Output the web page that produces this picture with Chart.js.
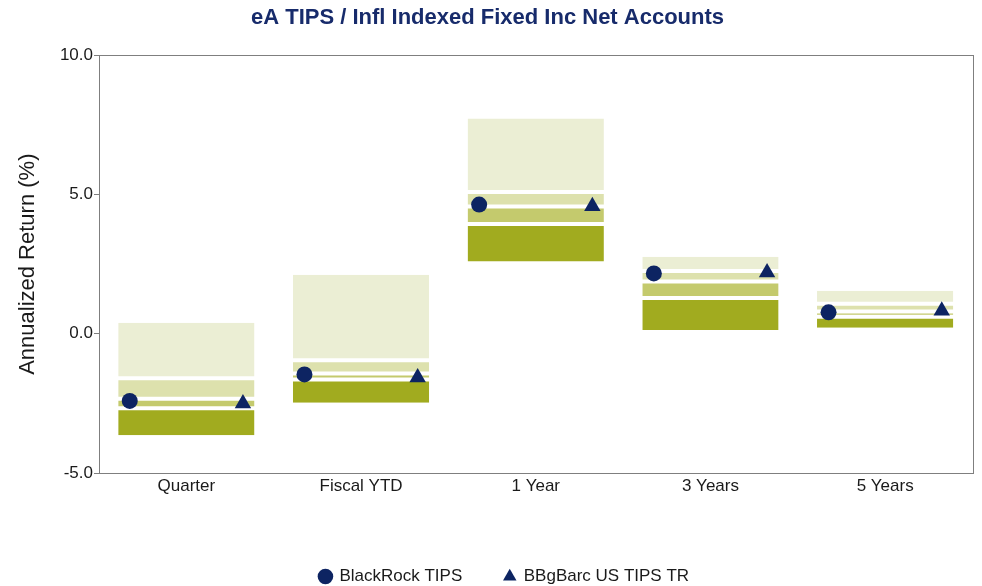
<!DOCTYPE html>
<html>
<head>
<meta charset="utf-8">
<title>eA TIPS / Infl Indexed Fixed Inc Net Accounts</title>
<script src="https://cdn.jsdelivr.net/npm/chart.js@4.4.1/dist/chart.umd.min.js"></script>
<style>
    html, body { margin: 0; padding: 0; background: #fff; }
    #wrap { width: 982px; height: 586px; position: relative; }
</style>
</head>
<body>
<div id="wrap"><canvas id="returnsChart"></canvas></div>
<script>
const periods = ['Quarter', 'Fiscal YTD', '1 Year', '3 Years', '5 Years'];

// Universe percentiles (5th = best return)
const pct5  = [0.40, 2.12, 7.73, 2.77, 1.55];
const pct25 = [-1.60, -0.95, 5.09, 2.26, 1.08];
const pct50 = [-2.33, -1.43, 4.57, 1.88, 0.80];
const pct75 = [-2.67, -1.64, 3.94, 1.29, 0.61];
const pct95 = [-3.64, -2.48, 2.60, 0.14, 0.22];

// Manager and benchmark returns
const blackrock = [-2.41, -1.46, 4.64, 2.17, 0.77];
const benchmark = [-2.50, -1.57, 4.58, 2.20, 0.83];

const yTicks = [-5, 0, 5, 10];

const NAVY = '#0d2462';
const TEXT = '#1a1a1a';
const AXIS = '#7f7f7f';
const FONT = "'Liberation Sans', Arial, sans-serif";

// markers sit near the left / right edge of each box
const MARK_SHIFT = 0.324;

function band(low, high, color, edges) {
    return {
        type: 'bar',
        data: low.map((v, i) => [v, high[i]]),
        backgroundColor: color,
        borderColor: '#ffffff',
        borderWidth: { top: edges[0], bottom: edges[1], left: 0, right: 0 },
        borderSkipped: false,
        inflateAmount: 0,
        grouped: false,
        barPercentage: 0.78,
        categoryPercentage: 1,
        order: 2
    };
}

function markers(label, values, shift, style, radius) {
    return {
        type: 'scatter',
        label: label,
        xAxisID: 'xm',
        data: values.map((v, i) => ({ x: i + shift, y: v })),
        pointStyle: style,
        pointRadius: radius,
        pointHoverRadius: radius,
        backgroundColor: NAVY,
        borderColor: NAVY,
        borderWidth: 0,
        order: 0
    };
}

// box outline around the plotting area
const plotFrame = {
    id: 'plotFrame',
    beforeDatasetsDraw(chart) {
        const { ctx, chartArea: a } = chart;
        ctx.save();
        ctx.strokeStyle = AXIS;
        ctx.lineWidth = 1;
        ctx.strokeRect(Math.round(a.left) + 0.5, Math.round(a.top) + 0.5,
            Math.round(a.right - a.left), Math.round(a.bottom - a.top));
        ctx.restore();
    }
};

// push the legend row down and a little right
const legendNudge = {
    id: 'legendNudge',
    afterLayout(chart) {
        const lg = chart.legend;
        lg.top += 9; lg.bottom += 9;
        lg.left += 17; lg.right += 17;
    }
};

new Chart(document.getElementById('returnsChart'), {
    data: {
        labels: periods,
        datasets: [
            markers('BlackRock TIPS', blackrock, -MARK_SHIFT, 'circle', 8),
            markers('BBgBarc US TIPS TR', benchmark, MARK_SHIFT, 'triangle', 9.5),
            band(pct25, pct5, '#ebeed4', [0, 2]),
            band(pct50, pct25, '#dde1ad', [2, 2]),
            band(pct75, pct50, '#c4ca6d', [2, 2]),
            band(pct95, pct75, '#a1ab1f', [2, 0])
        ]
    },
    options: {
        responsive: true,
        maintainAspectRatio: false,
        animation: false,
        layout: { padding: { left: 0, right: 7, top: 0, bottom: 0 } },
        plugins: {
            title: {
                display: true,
                text: 'eA TIPS / Infl Indexed Fixed Inc Net Accounts',
                color: '#172b6b',
                font: { family: FONT, size: 22, weight: 'bold' },
                padding: { top: 5, bottom: 24 }
            },
            legend: {
                position: 'bottom',
                labels: {
                    usePointStyle: true,
                    boxWidth: 11,
                    boxHeight: 11,
                    padding: 42,
                    color: TEXT,
                    font: { family: FONT, size: 17 },
                    filter: (item, data) => data.datasets[item.datasetIndex].type === 'scatter'
                }
            },
            tooltip: { enabled: false }
        },
        scales: {
            x: {
                type: 'category',
                offset: true,
                grid: { display: false, drawTicks: false },
                border: { display: false },
                ticks: { color: TEXT, font: { family: FONT, size: 17 }, padding: 3 },
                afterFit: s => { s.height = 44; }
            },
            xm: { type: 'linear', display: false, min: -0.5, max: 4.5 },
            y: {
                min: -5,
                max: 10,
                afterBuildTicks: s => { s.ticks = yTicks.map(v => ({ value: v })); },
                ticks: {
                    color: TEXT,
                    font: { family: FONT, size: 17 },
                    padding: 1,
                    callback: v => v.toFixed(1)
                },
                grid: { drawOnChartArea: false, tickLength: 5, color: AXIS },
                border: { display: false },
                title: {
                    display: true,
                    text: 'Annualized Return (%)',
                    color: TEXT,
                    font: { family: FONT, size: 22 },
                    padding: { top: 15, bottom: 0 }
                },
                afterFit: s => { s.width = 99; }
            }
        }
    },
    plugins: [plotFrame, legendNudge]
});
</script>
</body>
</html>
